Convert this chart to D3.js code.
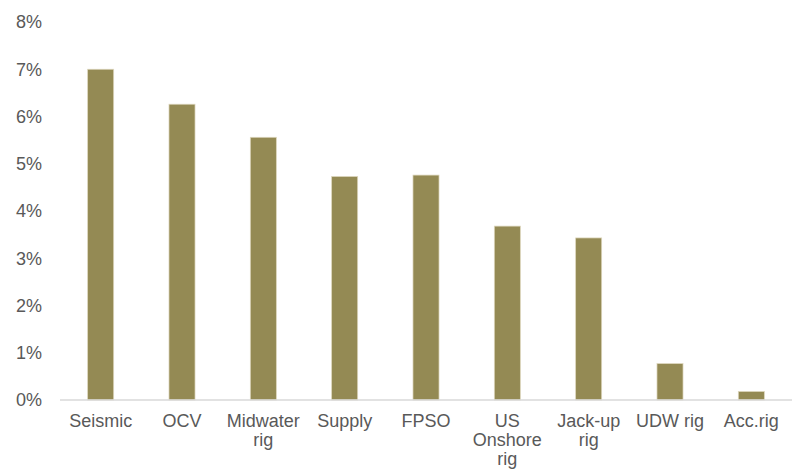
<!DOCTYPE html>
<html>
<head>
<meta charset="utf-8">
<script src="https://cdn.jsdelivr.net/npm/d3@7"></script>
<style>
  body { margin: 0; background: #fff; }
  text { font-family: "Liberation Sans", Arial, sans-serif; }
</style>
</head>
<body>
<div id="chart"></div>
<script>
const categories = ["Seismic", "OCV", "Midwater rig", "Supply", "FPSO", "US Onshore rig", "Jack-up rig", "UDW rig", "Acc.rig"];
const labelLines = [["Seismic"], ["OCV"], ["Midwater", "rig"], ["Supply"], ["FPSO"], ["US", "Onshore", "rig"], ["Jack-up", "rig"], ["UDW rig"], ["Acc.rig"]];
const values = [7.0, 6.26, 5.56, 4.73, 4.76, 3.68, 3.43, 0.77, 0.18];
const yTicks = [0, 1, 2, 3, 4, 5, 6, 7, 8];

const width = 799, height = 470;
const svg = d3.select("#chart").append("svg")
  .attr("width", width)
  .attr("height", height);

const x = d3.scaleBand()
  .domain(categories)
  .range([60, 792])
  .paddingInner(0.68)
  .paddingOuter(0.34);

const y = d3.scaleLinear()
  .domain([0, 8])
  .range([400, 22]);

// y labels, no axis line
svg.append("g")
  .selectAll("text")
  .data(yTicks)
  .enter()
  .append("text")
  .attr("x", 42)
  .attr("y", d => y(d))
  .attr("dy", "0.35em")
  .attr("text-anchor", "end")
  .attr("font-size", 18)
  .attr("fill", "#595959")
  .text(d => d + "%");

svg.append("g")
  .selectAll("rect")
  .data(values)
  .enter()
  .append("rect")
  .attr("x", (d, i) => x(categories[i]))
  .attr("y", d => y(d))
  .attr("width", x.bandwidth())
  .attr("height", d => y(0) - y(d))
  .attr("fill", "#948a54")
  .attr("stroke", "#ddd6bd")
  .attr("stroke-width", 0.75);

svg.append("line")
  .attr("x1", 60)
  .attr("x2", 792)
  .attr("y1", y(0))
  .attr("y2", y(0))
  .attr("stroke", "#d9d9d9")
  .attr("stroke-width", 1.5);

const lab = svg.append("g")
  .selectAll("text")
  .data(categories)
  .enter()
  .append("text")
  .attr("x", d => x(d) + x.bandwidth() / 2)
  .attr("y", 427)
  .attr("text-anchor", "middle")
  .attr("font-size", 18)
  .attr("fill", "#595959");

lab.selectAll("tspan")
  .data((d, i) => labelLines[i])
  .enter()
  .append("tspan")
  .attr("x", function () { return d3.select(this.parentNode).attr("x"); })
  .attr("dy", (d, i) => i === 0 ? 0 : 19)
  .text(d => d);
</script>
</body>
</html>
